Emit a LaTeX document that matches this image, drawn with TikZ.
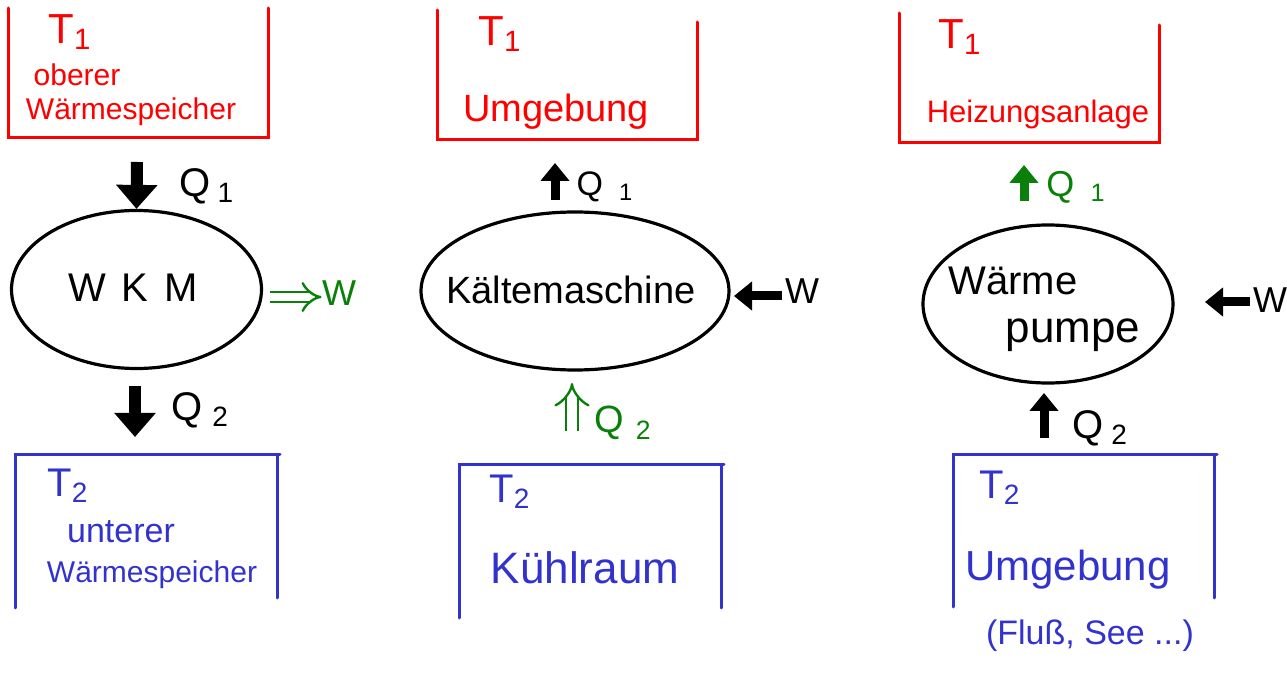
\documentclass[tikz,border=0pt]{standalone}
\usepackage{fontspec}
\setmainfont{Liberation Sans}
\usetikzlibrary{arrows.meta,shapes.geometric}
\definecolor{pred}{RGB}{255,0,0}
\definecolor{pblue}{RGB}{50,50,205}
\definecolor{pgreen}{RGB}{10,128,10}
\newcommand{\fs}[1]{\fontsize{#1}{#1}\selectfont}
\begin{document}
\begin{tikzpicture}[x=0.5pt,y=-0.5pt,
  wall/.style={line width=1.5pt, line cap=round, line join=miter},
  engine/.style={ellipse, draw=black, line width=1.6pt, inner sep=0pt},
  bigarrow/.style={line width=6pt, -{Triangle[width=20pt,length=12pt]}},
  smallarrow/.style={line width=4.5pt, -{Triangle[width=14pt,length=9pt]}},
  dblarrow/.style={double, double distance=4pt, line width=1.2pt, -{Implies}},
  lbl/.style={inner sep=0pt, anchor=center}]
\useasboundingbox (0,0) rectangle (1287,684);

% ---------- column 1 : WKM ----------
\draw[wall, pred] (8,8) -- (8,138) -- (268,138) -- (268,8);
\node[lbl, pred, font=\fs{21}] (t1a) at (70,32) {T\textsubscript{1}};
\node[lbl, pred, font=\fs{15}] (ob) at (77,75) {oberer};
\node[lbl, pred, font=\fs{15}] (ws1) at (131,112) {Wärmespeicher};

\node[engine, minimum width=125pt, minimum height=79pt] (wkm) at (136.5,289.5) {};
\node[lbl, font=\fs{20}] (wkmt) at (133,288) {W\hspace{8pt}K\hspace{8pt}M};

\coordinate (a1) at (137,162);
\draw[bigarrow] (a1) -- (wkm.north);
\node[lbl, font=\fs{20}] (q1a) at (207,186) {Q\,\textsubscript{1}};

\node[lbl, pgreen, font=\fs{18}] (w1) at (339,293) {W};
\coordinate (w1s) at (270,297);
\draw[dblarrow, pgreen] (w1s) -- (w1.west |- w1s);

\coordinate (b1s) at (135,386);
\coordinate (b1) at (135,437);
\draw[bigarrow] (b1s) -- (b1);
\node[lbl, font=\fs{20}] (q2a) at (200,410) {Q\hspace{5pt}\textsubscript{2}};

\draw[wall, pblue] (15,608) -- (15,455) -- (280,455);
\draw[wall, pblue] (277,455) -- (277,598);
\node[lbl, pblue, font=\fs{20}] (t2a) at (68,486) {T\textsubscript{2}};
\node[lbl, pblue, font=\fs{17}] (un) at (121,532) {unterer};
\node[lbl, pblue, font=\fs{15}] (ws2) at (152,575) {Wärmespeicher};

% ---------- column 2 : Kaeltemaschine ----------
\draw[wall, pred] (437,10) -- (437,140) -- (697,140) -- (697,22);
\node[lbl, pred, font=\fs{21}] (t1b) at (500,34) {T\textsubscript{1}};
\node[lbl, pred, font=\fs{19}] (umg1) at (556,112) {Umgebung};

\node[engine, minimum width=154pt, minimum height=79pt] (km) at (575,291) {};
\node[lbl, font=\fs{19}] (kmt) at (571,290) {Kältemaschine};

\coordinate (a2s) at (555,200);
\coordinate (a2e) at (555,163);
\draw[smallarrow] (a2s) -- (a2e);
\node[lbl, font=\fs{17}] (q1b) at (605,187) {Q\hspace{8pt}\textsubscript{1}};

\node[lbl, font=\fs{18}] (w2) at (802,291) {W};
\coordinate (w2s) at (782,296);
\coordinate (w2e) at (734,296);
\draw[smallarrow] (w2s) -- (w2e);

\coordinate (b2s) at (572,431);
\coordinate (b2e) at (572,383);
\draw[dblarrow, pgreen, double distance=5pt] (b2s) -- (b2e);
\node[lbl, pgreen, font=\fs{19}] (q2b) at (623,423) {Q\hspace{6pt}\textsubscript{2}};

\draw[wall, pblue] (459,618) -- (459,465) -- (724,465);
\draw[wall, pblue] (721,465) -- (721,608);
\node[lbl, pblue, font=\fs{20}] (t2b) at (510,492) {T\textsubscript{2}};
\node[lbl, pblue, font=\fs{22}] (kr) at (585,568) {Kühlraum};

% ---------- column 3 : Waermepumpe ----------
\draw[wall, pred] (899,13) -- (899,143) -- (1159,143) -- (1159,25);
\node[lbl, pred, font=\fs{21}] (t1c) at (960,37) {T\textsubscript{1}};
\node[lbl, pred, font=\fs{15.5}] (ha) at (1038,114) {Heizungsanlage};

\node[engine, minimum width=125pt, minimum height=79pt] (wp) at (1048,304) {};
\node[lbl, font=\fs{20}] (wpt1) at (1013,281) {Wärme};
\node[lbl, font=\fs{22}] (wpt2) at (1073,335) {pumpe};

\coordinate (a3s) at (1024,201);
\coordinate (a3e) at (1024,165);
\draw[smallarrow, pgreen] (a3s) -- (a3e);
\node[lbl, pgreen, font=\fs{18}] (q1c) at (1076,187) {Q\hspace{8pt}\textsubscript{1}};

\node[lbl, font=\fs{18}] (w3) at (1270,300) {W};
\coordinate (w3s) at (1250,302);
\coordinate (w3e) at (1205,302);
\draw[smallarrow] (w3s) -- (w3e);

\coordinate (b3s) at (1044,438);
\coordinate (b3e) at (1044,393);
\draw[smallarrow] (b3s) -- (b3e);
\node[lbl, font=\fs{20}] (q2c) at (1100,428) {Q\hspace{4pt}\textsubscript{2}};

\draw[wall, pblue] (953,607) -- (953,455) -- (1217,455);
\draw[wall, pblue] (1214,455) -- (1214,598);
\node[lbl, pblue, font=\fs{20}] (t2c) at (1000,488) {T\textsubscript{2}};
\node[lbl, pblue, font=\fs{21}] (umg2) at (1068,570) {Umgebung};
\node[lbl, pblue, font=\fs{17}] (fl) at (1090,636) {(Fluß, See ...)};
\end{tikzpicture}
\end{document}
